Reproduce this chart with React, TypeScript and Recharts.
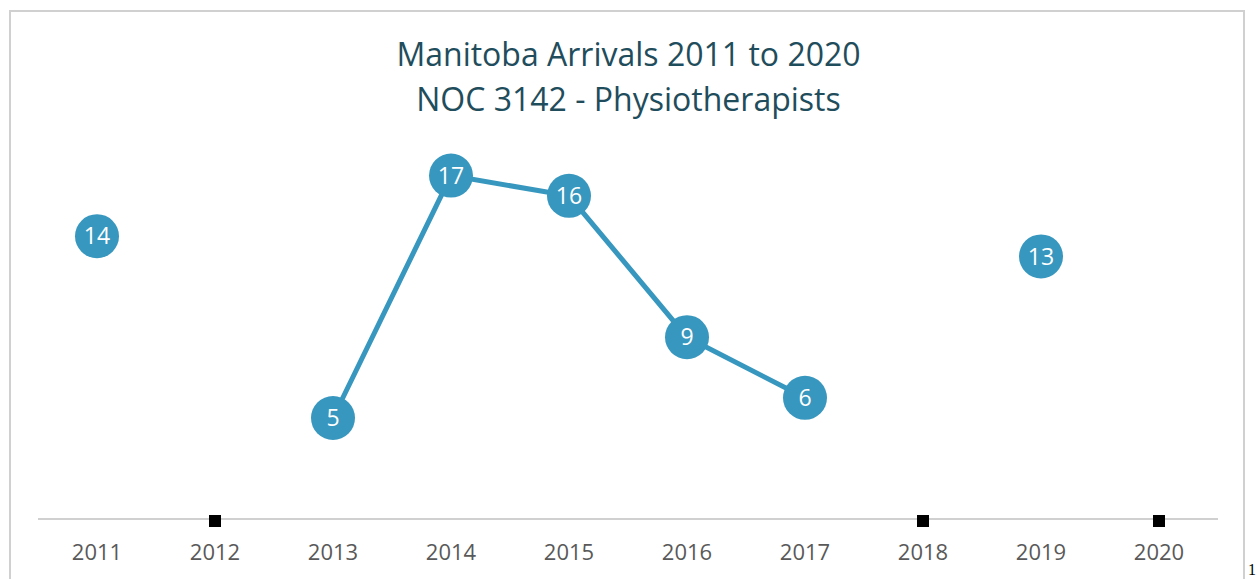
import { LineChart, Line, XAxis, YAxis, LabelList } from 'recharts';

const YEARS = ['2011', '2012', '2013', '2014', '2015', '2016', '2017', '2018', '2019', '2020'];
const ARRIVALS: Array<number | null> = [14, null, 5, 17, 16, 9, 6, null, 13, null];
// years without data, drawn as small squares on the axis
const MISSING: Array<number | null> = [null, 0, null, null, null, null, null, 0, null, 0];
const TITLE_LINES = ['Manitoba Arrivals 2011 to 2020', 'NOC 3142 - Physiotherapists'];

const LINE_COLOR = '#3797BE';
const TITLE_COLOR = '#1F4D5C';
const FONT = '"Open Sans", sans-serif';

const data = YEARS.map((year, i) => ({ year, arrivals: ARRIVALS[i], missing: MISSING[i] }));

function BubbleDot(props: { cx?: number; cy?: number; value?: number | null }) {
  const { cx, cy, value } = props;
  if (cx == null || cy == null || value == null) return null;
  return <circle cx={cx} cy={cy} r={22} fill={LINE_COLOR} />;
}

function SquareDot(props: { cx?: number; cy?: number; value?: number | null }) {
  const { cx, cy, value } = props;
  if (cx == null || cy == null || value == null) return null;
  return <rect x={cx - 6} y={cy - 4} width={12} height={12} fill="#000" />;
}

export default function App() {
  return (
    <div style={{ position: 'absolute', left: 0, top: 0, width: 1257, height: 579, background: '#fff' }}>
      <div
        style={{
          position: 'absolute',
          left: 9,
          top: 10,
          width: 1236,
          height: 600,
          border: '2px solid #D0D0D0',
          boxSizing: 'border-box',
        }}
      />
      <svg width={1257} height={579} style={{ position: 'absolute', left: 0, top: 0 }}>
        {TITLE_LINES.map((t, i) => (
          <text
            key={t}
            x={628.5}
            y={66 + i * 45}
            textAnchor="middle"
            fontFamily={FONT}
            fontSize={32}
            fill={TITLE_COLOR}
          >
            {t}
          </text>
        ))}
        <text x={1248} y={575} fontFamily="serif" fontSize={16} fill="#000">
          1
        </text>
      </svg>
      <div style={{ position: 'absolute', left: 0, top: 0 }}>
        <LineChart
          width={1257}
          height={579}
          data={data}
          margin={{ top: 115, right: 39, bottom: 0, left: 38 }}
        >
          <XAxis
            dataKey="year"
            padding={{ left: 59, right: 59 }}
            axisLine={{ stroke: '#D0D0D0', strokeWidth: 2 }}
            tickLine={false}
            tickMargin={19}
            tick={{ fill: '#595959', fontSize: 22, fontFamily: FONT }}
            height={60}
          />
          <YAxis hide domain={[0, 20]} />
          <Line
            dataKey="arrivals"
            stroke={LINE_COLOR}
            strokeWidth={5}
            connectNulls={false}
            dot={<BubbleDot />}
            activeDot={false}
            isAnimationActive={false}
          >
            <LabelList
              dataKey="arrivals"
              position="center"
              fill="#fff"
              fontSize={23}
              fontFamily={FONT}
            />
          </Line>
          <Line
            dataKey="missing"
            stroke="none"
            dot={<SquareDot />}
            activeDot={false}
            isAnimationActive={false}
          />
        </LineChart>
      </div>
    </div>
  );
}
